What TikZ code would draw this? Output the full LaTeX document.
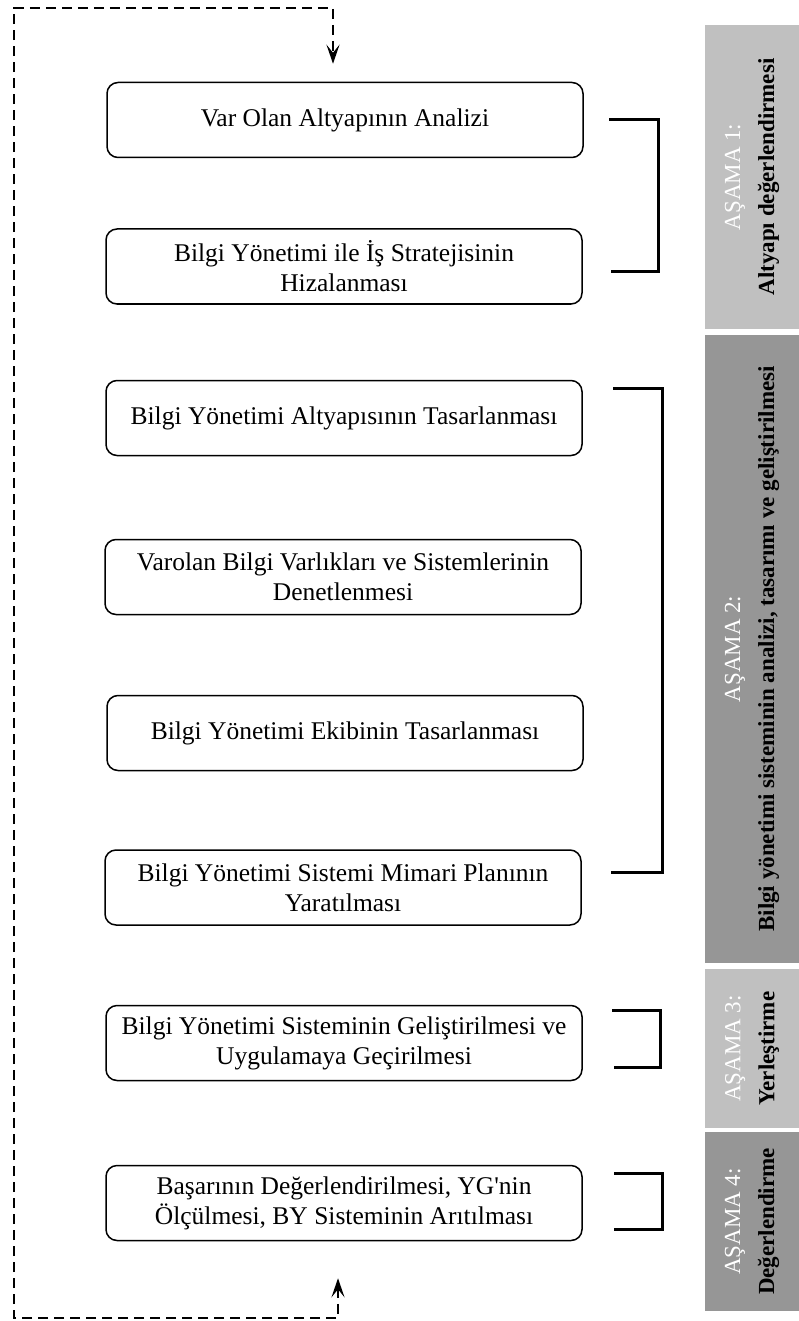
\documentclass[tikz,border=0pt]{standalone}
\usepackage{fontspec}
\setmainfont{Liberation Serif}
\usetikzlibrary{arrows.meta,calc}
\definecolor{panellight}{HTML}{C0C0C0}
\definecolor{paneldark}{HTML}{969696}
\begin{document}
\begin{tikzpicture}[x=1pt,y=-1pt,
  stepbox/.style={draw, line width=1.5pt, rounded corners=11pt,
    minimum width=476pt, minimum height=75pt, align=center, inner sep=0pt,
    font=\fontsize{25.5}{30}\selectfont},
  phase/.style={fill=#1, rotate=90, minimum height=94pt, align=center,
    inner sep=0pt, font=\fontsize{23}{34}\selectfont},
  bracket/.style={line width=3pt, line join=miter},
  tip/.style={Stealth[length=19pt,width=13pt,inset=8pt]},
  loopline/.style={line width=2.4pt, dash pattern=on 10pt off 6pt,
    {Stealth[length=19pt,width=13pt,inset=8pt]}-{Stealth[length=19pt,width=13pt,inset=8pt]}}
]
\useasboundingbox (0,0) rectangle (799,1321);

% process steps
\node[stepbox] (b1) at (345,120)   {Var Olan Altyapının Analizi};
\node[stepbox] (b2) at (344,266.5) {Bilgi Yönetimi ile İş Stratejisinin\\Hizalanması};
\node[stepbox] (b3) at (344,418)   {Bilgi Yönetimi Altyapısının Tasarlanması};
\node[stepbox] (b4) at (343,577)   {Varolan Bilgi Varlıkları ve Sistemlerinin\\Denetlenmesi};
\node[stepbox] (b5) at (345,733)   {Bilgi Yönetimi Ekibinin Tasarlanması};
\node[stepbox] (b6) at (343,887.5) {Bilgi Yönetimi Sistemi Mimari Planının\\Yaratılması};
\node[stepbox] (b7) at (344,1043)  {Bilgi Yönetimi Sisteminin Geliştirilmesi ve\\Uygulamaya Geçirilmesi};
\node[stepbox] (b8) at (344,1203)  {Başarının Değerlendirilmesi, YG\textquotesingle nin\\Ölçülmesi, BY Sisteminin Arıtılması};

% phase panels
\node[phase=panellight, minimum width=304pt] (p1) at (752,177)
  {\textcolor{white}{AŞAMA 1:}\\\textbf{Altyapı değerlendirmesi}};
\node[phase=paneldark, minimum width=628pt] (p2) at (752,649)
  {\textcolor{white}{AŞAMA 2:}\\\textbf{Bilgi yönetimi sisteminin analizi, tasarımı ve geliştirilmesi}};
\node[phase=panellight, minimum width=159pt] (p3) at (752,1048.5)
  {\textcolor{white}{AŞAMA 3:}\\\textbf{Yerleştirme}};
\node[phase=paneldark, minimum width=179pt] (p4) at (752,1221.5)
  {\textcolor{white}{AŞAMA 4:}\\\textbf{Değerlendirme}};

% brackets grouping the steps of each phase
\draw[bracket] (609,120) -- (658,120) -- (658,272) -- (611,272);
\draw[bracket] (613,388) -- (662,388) -- (662,872) -- (611,872);
\draw[bracket] (612,1010) -- (660,1010) -- (660,1067) -- (614,1067);
\draw[bracket] (614,1173) -- (662,1173) -- (662,1229) -- (614,1229);

% feedback loop from the last step back to the first
\coordinate (loopin)  at ($(b1.north)+(-12,-18)$);
\coordinate (loopout) at ($(b8.south)+(-6,37)$);
\draw[loopline] (loopout) -- (loopout |- 0,1318) -- (14,1318) -- (14,8)
  -- (loopin |- 0,8) -- (loopin);
\end{tikzpicture}
\end{document}
